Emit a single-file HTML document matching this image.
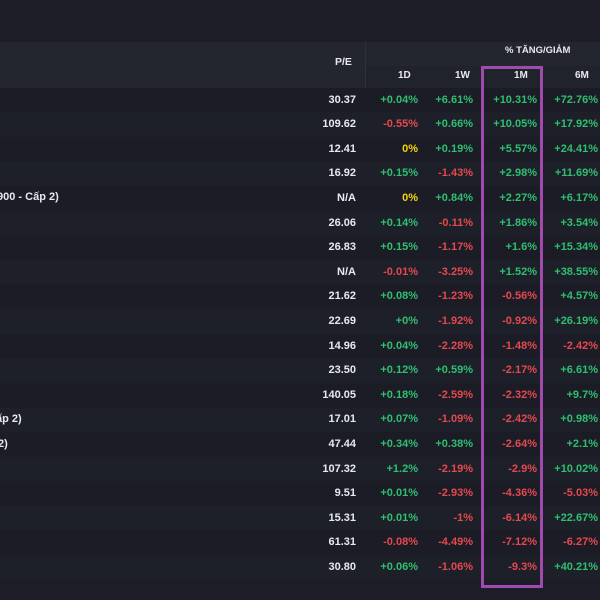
<!DOCTYPE html>
<html><head><meta charset="utf-8"><style>
body{margin:0;width:600px;height:600px;background:#1c1d26;overflow:hidden;font-family:"Liberation Sans",sans-serif;font-weight:bold;font-size:11px;position:relative}
.a{position:absolute;white-space:nowrap}
.t{z-index:5}
.r{text-align:right}
.g{color:#2fbf71}.d{color:#e5484f}.y{color:#f2d40f}.w{color:#e8e9ee}
</style></head><body>
<div class="a" style="left:0;top:42px;width:600px;height:46px;background:#24262f"></div>
<div class="a" style="left:366px;top:66px;width:234px;height:22px;background:#21232c"></div>
<div class="a" style="left:365px;top:42px;width:1px;height:46px;background:#2e303a"></div>
<div class="a w t" style="left:335px;top:56px;font-size:10.5px">P/E</div>
<div class="a w t" style="left:505px;top:45px;font-size:9.5px">% TĂNG/GIẢM</div>
<div class="a w t" style="left:398px;top:70px;font-size:10px">1D</div>
<div class="a w t" style="left:455px;top:70px;font-size:10px">1W</div>
<div class="a w t" style="left:514px;top:70px;font-size:10px">1M</div>
<div class="a w t" style="left:575px;top:70px;font-size:10px">6M</div>
<div class="a w t" style="left:-3px;top:191px">900 - Cấp 2)</div>
<div class="a w t" style="left:-4px;top:413px">ấp 2)</div>
<div class="a w t" style="left:-2px;top:438px">2)</div>
<div id="rows"></div>
<div class="a t" style="left:481px;top:66px;width:56px;height:516px;border:3px solid #a04aae"></div>
<script>
const pe=["30.37","109.62","12.41","16.92","N/A","26.06","26.83","N/A","21.62","22.69","14.96","23.50","140.05","17.01","47.44","107.32","9.51","15.31","61.31","30.80"];
const d1=["+0.04%","-0.55%","0%","+0.15%","0%","+0.14%","+0.15%","-0.01%","+0.08%","+0%","+0.04%","+0.12%","+0.18%","+0.07%","+0.34%","+1.2%","+0.01%","+0.01%","-0.08%","+0.06%"];
const w1=["+6.61%","+0.66%","+0.19%","-1.43%","+0.84%","-0.11%","-1.17%","-3.25%","-1.23%","-1.92%","-2.28%","+0.59%","-2.59%","-1.09%","+0.38%","-2.19%","-2.93%","-1%","-4.49%","-1.06%"];
const m1=["+10.31%","+10.05%","+5.57%","+2.98%","+2.27%","+1.86%","+1.6%","+1.52%","-0.56%","-0.92%","-1.48%","-2.17%","-2.32%","-2.42%","-2.64%","-2.9%","-4.36%","-6.14%","-7.12%","-9.3%"];
const m6=["+72.76%","+17.92%","+24.41%","+11.69%","+6.17%","+3.54%","+15.34%","+38.55%","+4.57%","+26.19%","-2.42%","+6.61%","+9.7%","+0.98%","+2.1%","+10.02%","-5.03%","+22.67%","-6.27%","+40.21%"];
const cols=[[pe,356,'pe'],[d1,418,'d1'],[w1,473,'w1'],[m1,537,'m1'],[m6,598,'m6']];
const host=document.getElementById('rows');
pe.forEach((_,i)=>{
  const y=100+i*24.6;
  const bg=document.createElement('div');
  bg.className='a';
  
  
  bg.style.cssText=`left:0;top:${y-12.3}px;width:600px;height:24.6px;background:${i%2?'#1e2029':'#1b1c25'}`;
  host.appendChild(bg);
  cols.forEach(([arr,right,key])=>{
    const v=arr[i];
    const el=document.createElement('div');
    el.className='a r t '+(key==='pe'?'w':(v==='0%'?'y':(v[0]==='-'?'d':'g')));
    
    
    el.style.cssText=`right:${600-right}px;top:${y-6.5}px`;
    el.textContent=v;
    host.appendChild(el);
  });
});
</script>
</body></html>
